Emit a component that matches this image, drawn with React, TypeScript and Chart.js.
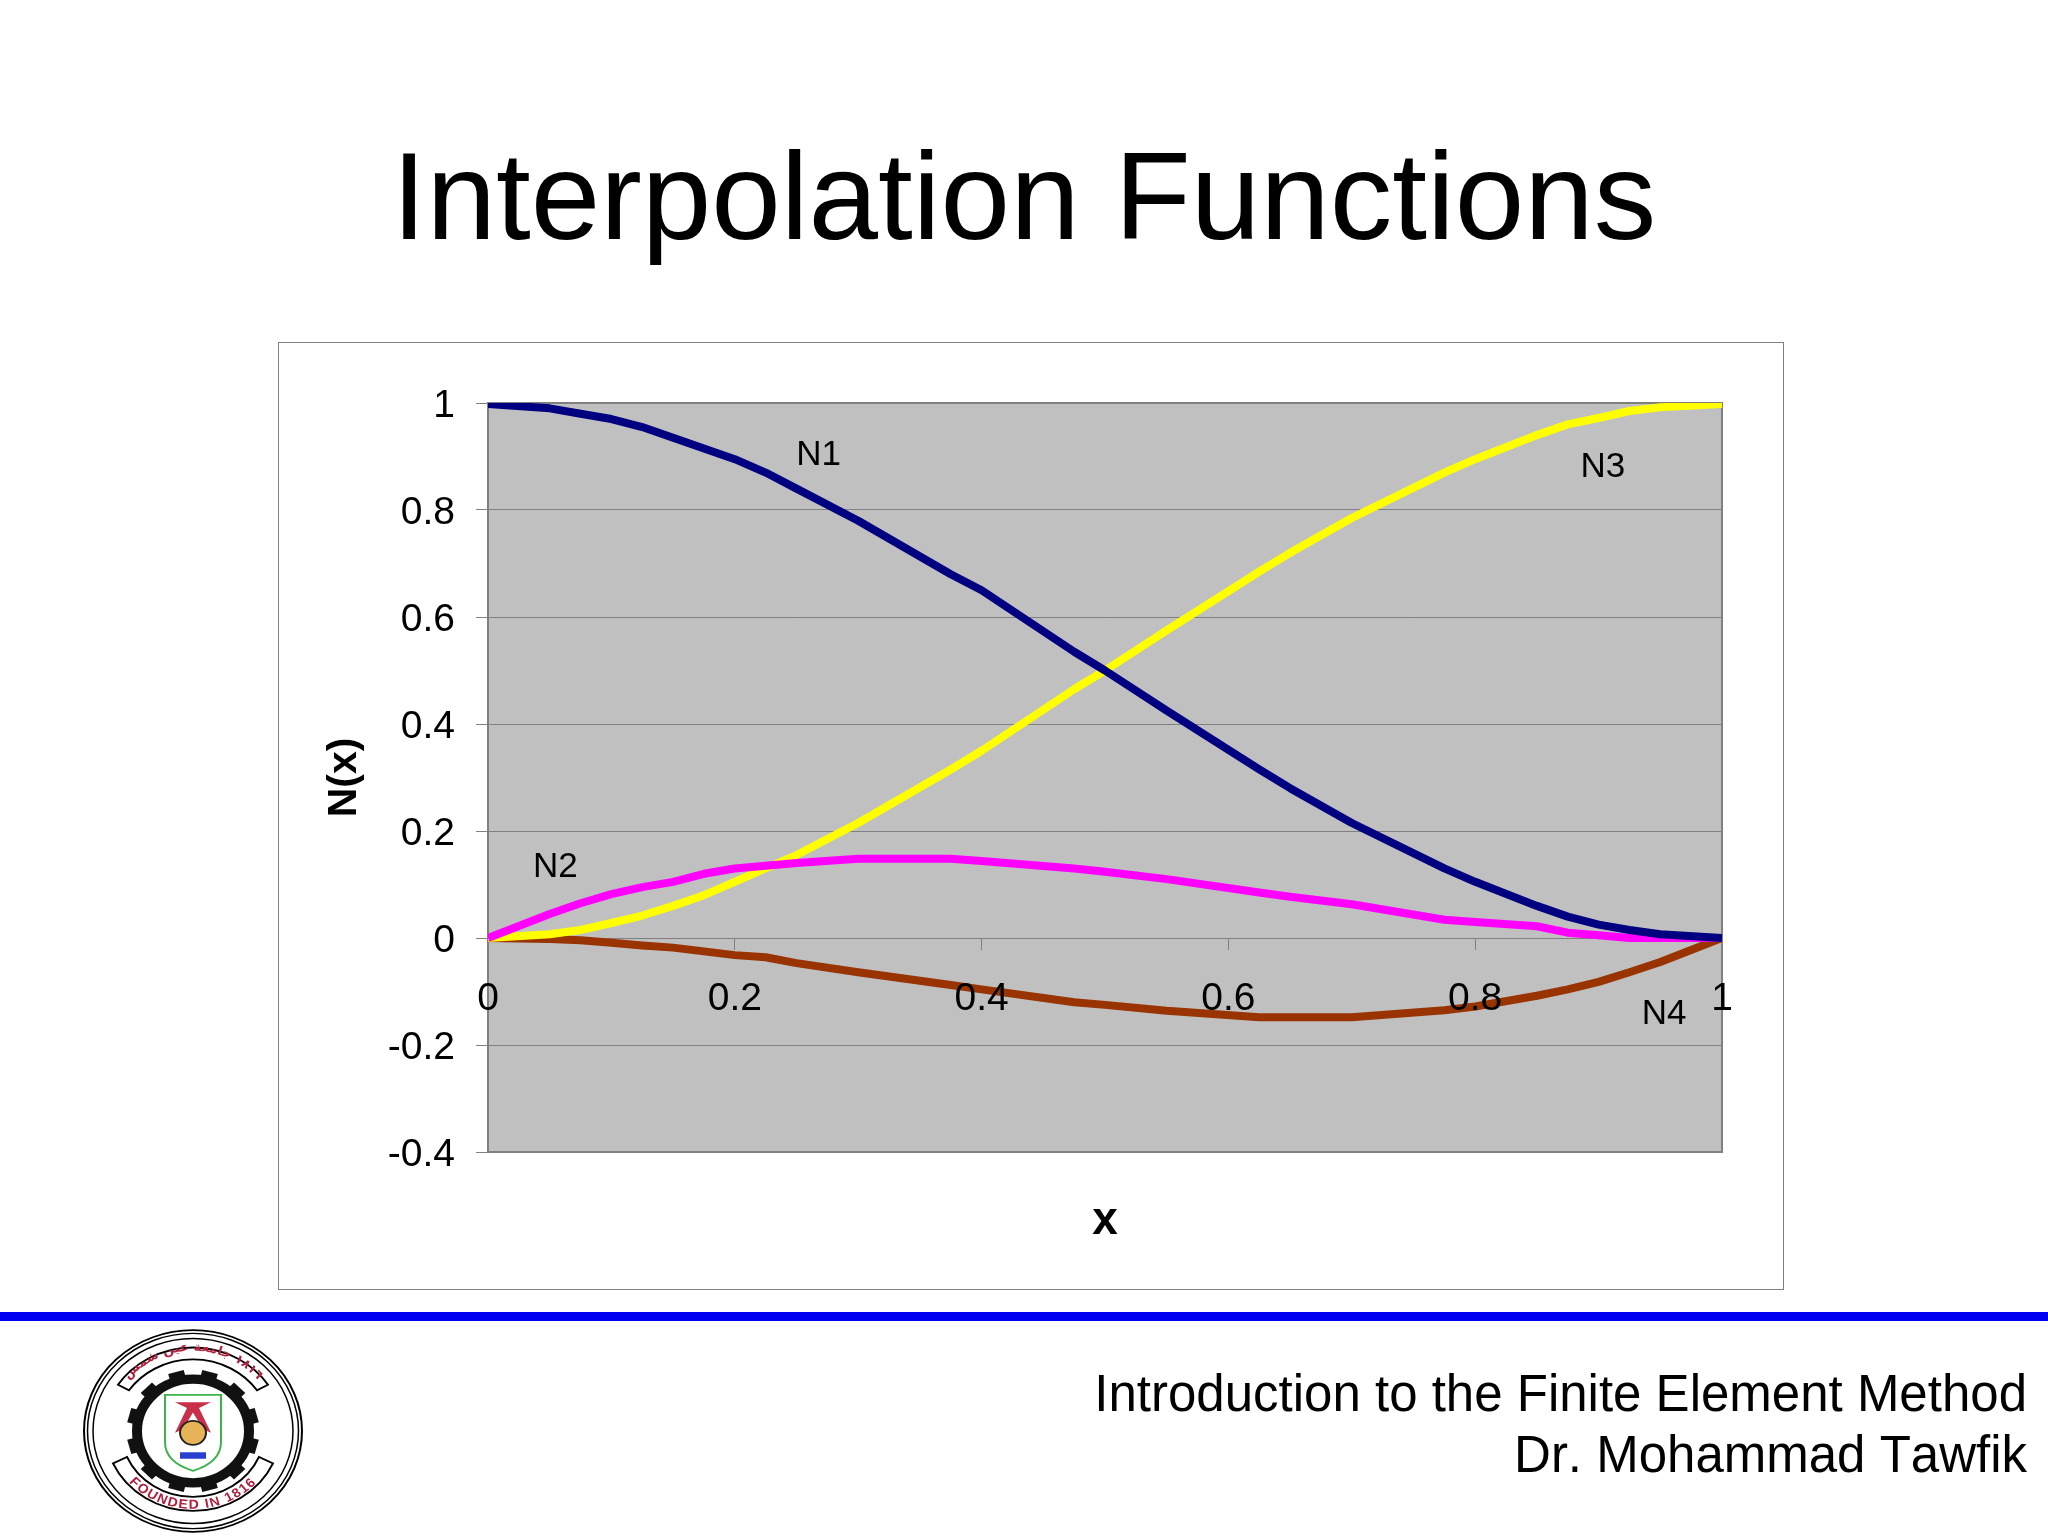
import { useEffect, useRef } from "react";
import { Chart, registerables } from "chart.js";

Chart.register(...registerables);

const FONT = '"Liberation Sans", Arial, sans-serif';

const xValues = [0, 0.05, 0.075, 0.1, 0.125, 0.15, 0.175, 0.2, 0.225, 0.25, 0.3, 0.375, 0.4, 0.475, 0.5, 0.55, 0.625, 0.65, 0.7, 0.775, 0.8, 0.85, 0.875, 0.9, 0.925, 0.95, 1];
const n1 = [0.998, 0.99, 0.98, 0.97, 0.955, 0.935, 0.915, 0.895, 0.87, 0.84, 0.78, 0.68, 0.65, 0.535, 0.5, 0.425, 0.315, 0.28, 0.215, 0.13, 0.105, 0.06, 0.04, 0.025, 0.015, 0.007, 0];
const n2 = [0, 0.045, 0.065, 0.082, 0.095, 0.105, 0.12, 0.13, 0.135, 0.14, 0.148, 0.148, 0.144, 0.13, 0.124, 0.11, 0.085, 0.077, 0.063, 0.034, 0.03, 0.022, 0.01, 0.005, 0, 0, 0];
const n3 = [0, 0.007, 0.015, 0.028, 0.042, 0.06, 0.08, 0.105, 0.13, 0.155, 0.215, 0.315, 0.35, 0.465, 0.5, 0.575, 0.685, 0.72, 0.785, 0.87, 0.895, 0.94, 0.96, 0.972, 0.985, 0.992, 0.998];
const n4 = [0, -0.002, -0.004, -0.009, -0.014, -0.018, -0.025, -0.032, -0.036, -0.047, -0.064, -0.088, -0.096, -0.12, -0.125, -0.136, -0.148, -0.148, -0.148, -0.135, -0.128, -0.108, -0.096, -0.082, -0.064, -0.045, 0];

const seriesNames = ["N1", "N2", "N3", "N4"];
const seriesColors = ["#000080", "#ff00ff", "#ffff00", "#993300"];
const seriesValues = [n1, n2, n3, n4];

// where the curve names sit, in data units
const labelX = [0.268, 0.0545, 0.9035, 0.953];
const labelY = [0.902, 0.133, 0.88, -0.142];

const plotDecor = {
  id: "plotDecor",
  beforeDraw(chart: Chart) {
    const { ctx, chartArea: a } = chart;
    ctx.save();
    ctx.fillStyle = "#c0c0c0";
    ctx.fillRect(a.left, a.top, a.right - a.left, a.bottom - a.top);
    ctx.restore();
  },
  beforeDatasetsDraw(chart: Chart) {
    const { ctx, chartArea: a } = chart;
    ctx.save();
    ctx.strokeStyle = "#808080";
    ctx.lineWidth = 2;
    ctx.strokeRect(a.left, a.top, a.right - a.left, a.bottom - a.top);
    ctx.restore();
  },
  afterDraw(chart: Chart) {
    const { ctx, scales } = chart;
    ctx.save();
    ctx.fillStyle = "#000";
    ctx.font = `35px ${FONT}`;
    ctx.textAlign = "center";
    ctx.textBaseline = "middle";
    seriesNames.forEach((name, i) => {
      ctx.fillText(name, scales.x.getPixelForValue(labelX[i]), scales.y.getPixelForValue(labelY[i]));
    });
    ctx.restore();
  },
};

function Logo() {
  const teeth = [0, 30, 60, 90, 120, 150, 180, 210, 240, 270, 300, 330];
  return (
    <svg width={240} height={222} viewBox="-120 -120 240 240" preserveAspectRatio="none" style={{ position: "absolute", left: 73, top: 1320 }}>
      <defs>
        <path id="arcTop" d="M -78 -30 A 82 82 0 0 1 78 -30" />
        <path id="arcBottom" d="M -82 24 A 86 86 0 0 0 82 24" />
      </defs>
      <circle r={109} fill="#fff" stroke="#000" strokeWidth={2} />
      <circle r={105.5} fill="none" stroke="#000" strokeWidth={1.5} />
      <circle r={100} fill="none" stroke="#000" strokeWidth={1.5} />
      <path d="M -75 -50 A 90 90 0 0 1 75 -50 L 64 -44 A 78 78 0 0 0 -64 -44 Z" fill="#fff" stroke="#000" strokeWidth={2} />
      <path d="M -80 35 A 88 88 0 0 0 80 35 L 66 28 A 72 72 0 0 1 -66 28 Z" fill="#fff" stroke="#000" strokeWidth={2} />
      {teeth.map((t) => (
        <rect key={t} x={-8} y={-66} width={16} height={12} fill="#111" transform={`rotate(${t + 15})`} />
      ))}
      <circle r={56} fill="#fff" stroke="#111" strokeWidth={10} />
      <path d="M -28 -39 H 28 V 12 Q 28 34 0 43 Q -28 34 -28 12 Z" fill="#fff" stroke="#3cb44b" strokeWidth={2} />
      <path d="M -18 -31 H 18 L 6 -25 L 18 2 L 10 -2 L 0 -20 L -10 -2 L -18 2 L -6 -25 Z" fill="#c8304a" />
      <circle cy={2} r={13} fill="#e8b45a" stroke="#222" strokeWidth={2} />
      <rect x={-13} y={23} width={26} height={7} fill="#2a3fd0" />
      <text fontFamily="DejaVu Sans" fontSize={13} fill="#b0203c" fontWeight="bold">
        <textPath href="#arcTop" startOffset="50%" textAnchor="middle">١٨١٦ جامعة عين شمس</textPath>
      </text>
      <text fontFamily={FONT} fontSize={14} fill="#b0203c" fontWeight="bold" letterSpacing={1.5}>
        <textPath href="#arcBottom" startOffset="50%" textAnchor="middle">FOUNDED IN 1816</textPath>
      </text>
    </svg>
  );
}

export default function App() {
  const canvasRef = useRef<HTMLCanvasElement>(null);

  useEffect(() => {
    if (!canvasRef.current) return;
    const chart = new Chart(canvasRef.current, {
      type: "line",
      data: {
        datasets: seriesNames.map((name, i) => ({
          label: name,
          data: xValues.map((x, j) => ({ x, y: seriesValues[i][j] })),
          borderColor: seriesColors[i],
          backgroundColor: seriesColors[i],
          borderWidth: 8,
          pointRadius: 0,
          tension: 0,
          borderJoinStyle: "round" as const,
        })),
      },
      plugins: [plotDecor],
      options: {
        responsive: false,
        animation: false,
        devicePixelRatio: 1,
        layout: { padding: { left: 288, top: 403, right: 326, bottom: 384 } },
        plugins: { legend: { display: false }, tooltip: { enabled: false } },
        scales: {
          x: {
            type: "linear",
            position: { y: 0 },
            min: 0,
            max: 1,
            grid: { drawOnChartArea: false, drawTicks: true, tickLength: 12, color: "#808080" },
            border: { display: false },
            ticks: {
              stepSize: 0.2,
              autoSkip: false,
              maxRotation: 0,
              padding: 26,
              z: 1,
              color: "#000",
              font: { family: FONT, size: 39 },
              callback: (v) => String(Math.round(Number(v) * 10) / 10),
            },
            title: {
              display: true,
              text: "x",
              color: "#000",
              font: { family: FONT, size: 46, weight: "bold" },
              padding: { top: 145, bottom: 0 },
            },
          },
          y: {
            min: -0.4,
            max: 1,
            afterFit: (s) => {
              s.width = 200;
            },
            grid: { color: "#808080", tickLength: 12, lineWidth: 1 },
            border: { color: "#666666", width: 2 },
            ticks: {
              stepSize: 0.2,
              padding: 21,
              labelOffset: 3,
              color: "#000",
              font: { family: FONT, size: 39 },
              callback: (v) => String(Math.round(Number(v) * 10) / 10),
            },
            title: {
              display: true,
              text: "N(x)",
              color: "#000",
              font: { family: FONT, size: 41, weight: "bold" },
              padding: { top: 32, bottom: 0 },
            },
          },
        },
      },
    });
    return () => chart.destroy();
  }, []);

  return (
    <div style={{ position: "absolute", left: 0, top: 0, width: 2048, height: 1536, background: "#fff", overflow: "hidden", fontFamily: FONT, color: "#000" }}>
      <div style={{ position: "absolute", left: 0, width: 2048, top: 124, textAlign: "center", fontSize: 125, lineHeight: "143px" }}>
        Interpolation Functions
      </div>
      <div style={{ position: "absolute", left: 278, top: 342, width: 1506, height: 948, border: "1px solid #808080", boxSizing: "border-box" }} />
      <canvas ref={canvasRef} width={2048} height={1536} style={{ position: "absolute", left: 0, top: 0 }} />
      <div style={{ position: "absolute", left: 0, top: 1312, width: 2048, height: 9, background: "#0000f0" }} />
      <Logo />
      <div style={{ position: "absolute", right: 21, top: 1363, textAlign: "right", fontSize: 51, lineHeight: "61px", fontKerning: "none" }}>
        <div>Introduction to the Finite Element Method</div>
        <div>Dr. Mohammad Tawfik</div>
      </div>
    </div>
  );
}
